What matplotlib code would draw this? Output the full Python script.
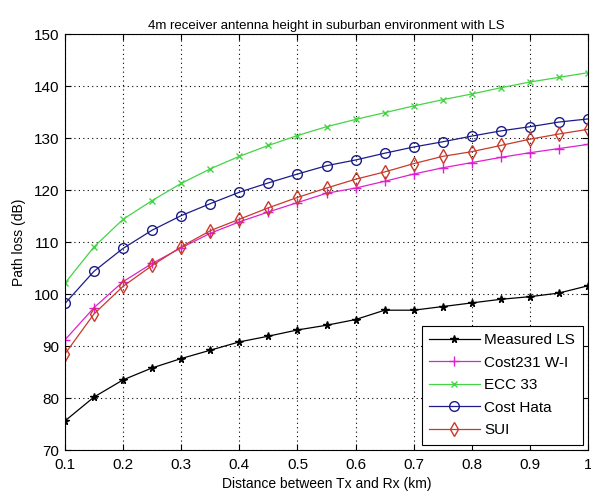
import matplotlib
matplotlib.use("Agg")
import matplotlib.pyplot as plt

plt.rcParams['font.family'] = ['Liberation Sans', 'DejaVu Sans']

distance = [0.1, 0.15, 0.2, 0.25, 0.3, 0.35, 0.4, 0.45, 0.5, 0.55,
            0.6, 0.65, 0.7, 0.75, 0.8, 0.85, 0.9, 0.95, 1.0]
measured_ls = [75.6, 80.2, 83.5, 85.8, 87.6, 89.2, 90.8, 91.9, 93.1, 94.0,
               95.1, 96.9, 96.9, 97.6, 98.3, 99.0, 99.5, 100.2, 101.6]
cost231_wi = [91.2, 97.4, 102.4, 105.9, 108.9, 111.7, 113.9, 115.8, 117.6, 119.4,
              120.4, 121.7, 123.1, 124.3, 125.3, 126.3, 127.2, 128.0, 128.8]
ecc33 = [102.1, 109.1, 114.4, 118.0, 121.3, 124.1, 126.5, 128.6, 130.5, 132.2,
         133.6, 134.9, 136.2, 137.4, 138.5, 139.7, 140.8, 141.7, 142.6]
cost_hata = [98.2, 104.4, 108.8, 112.3, 115.1, 117.4, 119.6, 121.4, 123.1, 124.7,
             125.8, 127.1, 128.3, 129.3, 130.4, 131.4, 132.2, 133.1, 133.7]
sui = [88.5, 96.2, 101.5, 105.5, 109.1, 112.2, 114.4, 116.6, 118.6, 120.4,
       122.1, 123.5, 125.1, 126.5, 127.4, 128.6, 129.8, 130.8, 131.7]

xticks = [0.1, 0.2, 0.3, 0.4, 0.5, 0.6, 0.7, 0.8, 0.9, 1.0]
xticklabels = ['0.1', '0.2', '0.3', '0.4', '0.5', '0.6', '0.7', '0.8', '0.9', '1']
yticks = [70, 80, 90, 100, 110, 120, 130, 140, 150]

fig = plt.figure(figsize=(5.91, 4.95), dpi=100)
ax = fig.add_axes([0.110, 0.0909, 0.885, 0.840])

lw = 0.9
ax.plot(distance, measured_ls, color='black', marker='*', markersize=5.5, lw=lw, label='Measured LS')
ax.plot(distance, cost231_wi, color='#e020d0', marker='+', markersize=7, lw=lw, label='Cost231 W-I')
ax.plot(distance, ecc33, color='#44d444', marker='x', markersize=4.5, lw=lw, label='ECC 33')
ax.plot(distance, cost_hata, color='#1c1c8a', marker='o', markersize=7, mfc='none', lw=lw, label='Cost Hata')
ax.plot(distance, sui, color='#c83a2a', marker='d', markersize=7, mfc='none', lw=lw, label='SUI')

ax.set_xlim(0.1, 1.0)
ax.set_ylim(70, 150)
ax.set_xticks(xticks)
ax.set_xticklabels(xticklabels)
ax.set_yticks(yticks)
ax.tick_params(direction='in', labelsize=11, length=4, top=True, right=True)
ax.tick_params(axis='x', pad=6)
ax.tick_params(axis='y', pad=4)
ax.grid(True, linestyle=(0, (1, 3)), color='black', linewidth=0.8)

ax.set_xlabel('Distance between Tx and Rx (km)', fontsize=10, labelpad=3)
ax.set_ylabel('Path loss (dB)', fontsize=10, labelpad=6)
ax.set_title('4m receiver antenna height in suburban environment with LS', fontsize=9.5, pad=4)

leg = ax.legend(loc='lower right', fontsize=11, fancybox=False, framealpha=1,
                edgecolor='black', borderpad=0.5, labelspacing=0.55, handlelength=3.3,
                handletextpad=0.3, borderaxespad=0.35)
leg.get_frame().set_linewidth(0.8)

fig.savefig('out.png', dpi=100)
